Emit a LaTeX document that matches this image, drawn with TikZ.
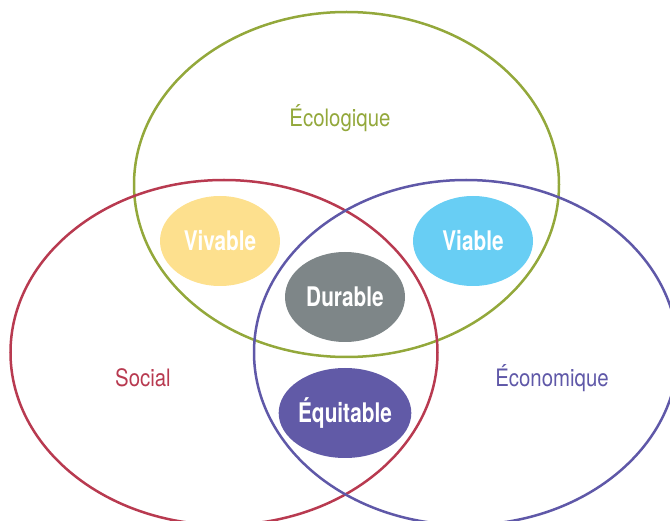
\documentclass[tikz,border=0pt]{standalone}
\usepackage{fontspec}
\setmainfont{TeX Gyre Heros}[FakeStretch=0.85]
\newfontfamily\valuefont{TeX Gyre Heros}[FakeStretch=0.77]
\usepackage{tikz}
\usetikzlibrary{shapes.geometric}
\definecolor{ecolo}{HTML}{93A83B}
\definecolor{social}{HTML}{B83A50}
\definecolor{econo}{HTML}{5F58A8}
\definecolor{vivable}{HTML}{FDE08E}
\definecolor{viable}{HTML}{68CEF4}
\definecolor{durable}{HTML}{7E8688}
\definecolor{equitable}{HTML}{615AA7}

\begin{document}
\begin{tikzpicture}[x=1pt,y=-1pt]
    \tikzstyle{sphere}=[ellipse,line width=2.5pt,inner sep=0pt,minimum height=345pt]
    \tikzstyle{value}=[ellipse,inner sep=0pt,minimum width=120pt,minimum height=90pt,
        text=white,font=\valuefont\bfseries\fontsize{27}{27}\selectfont,
        text height=20pt,text depth=0pt]
    \tikzstyle{annot}=[anchor=base,font=\fontsize{24}{24}\selectfont]

    \useasboundingbox (0,0) rectangle (670,521);

    % Draw the three spheres
    \node[sphere,draw=ecolo,minimum width=425pt] (E) at (346.5,184.5) {};
    \node[sphere,draw=social,minimum width=427pt] (S) at (224,352.5) {};
    \node[sphere,draw=econo,minimum width=424pt] (C) at (466,352.5) {};

    % Name the spheres
    \node[annot,text=ecolo] (E-label) at (340,127) {Écologique};
    \node[annot,text=social] (S-label) at (143,387) {Social};
    \node[annot,text=econo] (C-label) at (552,387) {Économique};

    % Draw the values in the overlaps
    \foreach \name/\x/\y/\word in {vivable/220/241/Vivable,viable/473/241/Viable,
        durable/345/297/Durable,equitable/345/413/Équitable}
        \node[value,fill=\name] (V-\name) at (\x,\y) {\word};
\end{tikzpicture}
\end{document}
